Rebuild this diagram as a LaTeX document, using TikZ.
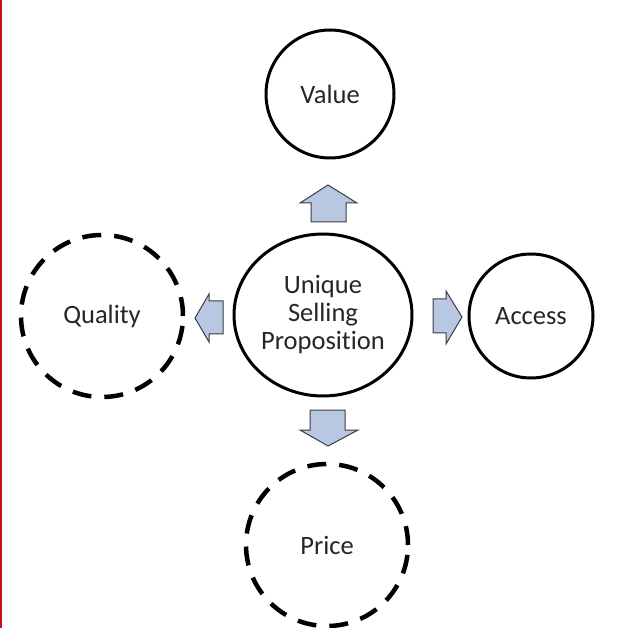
\documentclass[tikz,border=0pt]{standalone}
\usepackage{fontspec}
\setmainfont[Ligatures=NoCommon]{Carlito}
\usetikzlibrary{shapes.geometric}
\definecolor{arrowfill}{RGB}{185,200,226}
\definecolor{arrowline}{RGB}{60,60,70}
\definecolor{edgered}{RGB}{192,20,30}
\begin{document}
\begin{tikzpicture}[x=1pt,y=-1pt,
  label text/.style={font=\fontsize{26.5}{28}\selectfont, text=black!85, align=center},
  solid ring/.style={circle, draw=black, line width=3pt, label text},
  dashed ring/.style={circle, draw=black, line width=4.5pt, dash pattern=on 19pt off 13pt, label text},
  center ring/.style={ellipse, draw=black, line width=3pt, label text},
  blockarrow/.style={draw=arrowline, fill=arrowfill, line width=1pt, line join=miter}]
\useasboundingbox (0,0) rectangle (640,628);
\fill[white] (0,0) rectangle (640,628);
\fill[edgered] (0,0) rectangle (2,628);

% circles
\node[center ring, minimum width=178pt, minimum height=162pt, inner sep=0pt] (usp) at (323,315) {Unique\\Selling\\Proposition};
\node[solid ring, minimum size=128pt] (value) at (330,94) {Value};
\node[solid ring, minimum size=124pt] (access) at (531,316) {Access};
\node[dashed ring, minimum size=162pt] (quality) at (102,316) {Quality};
\node[dashed ring, minimum size=162pt] (price) at (327,545) {Price};

% block arrows pointing outward from the centre
\draw[blockarrow] (328,185) -- (357,203) -- (346,203) -- (346,222) -- (311,222) -- (311,203) -- (300,203) -- cycle;
\draw[blockarrow] (195,318) -- (209,294) -- (209,301) -- (223,301) -- (223,334) -- (209,334) -- (209,342) -- cycle;
\draw[blockarrow] (462,317) -- (446,291) -- (446,299) -- (433,299) -- (433,333) -- (446,333) -- (446,344) -- cycle;
\draw[blockarrow] (328,446) -- (358,430) -- (345,430) -- (345,410) -- (310,410) -- (310,430) -- (300,430) -- cycle;
\end{tikzpicture}
\end{document}
